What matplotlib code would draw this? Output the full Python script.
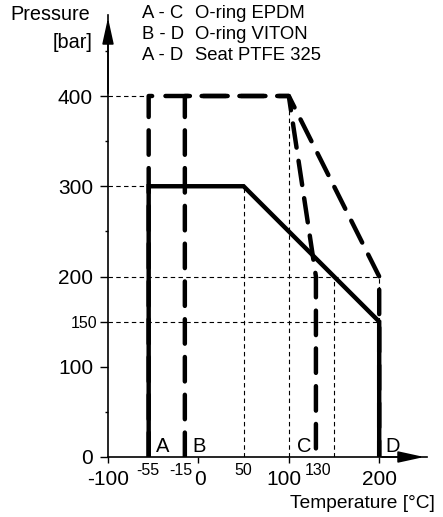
import matplotlib
matplotlib.use("Agg")
import matplotlib.pyplot as plt

plt.rcParams["font.family"] = ["Liberation Sans", "DejaVu Sans"]

# curves: temperature [°C], pressure [bar]
seat_t = [-55, -55, 50, 200, 200]
seat_p = [0, 300, 300, 150, 0]
epdm_t = [-55, -55, 100, 130, 130]
epdm_p = [0, 400, 400, 200, 0]
viton_t = [-15, -15, 100, 200, 200]
viton_p = [0, 400, 400, 200, 0]

# helper (thin dashed) lines
hlines_p = [400, 300, 200, 150]
hlines_end = [-55, -55, 200, 200]
vlines_t = [50, 100, 150]
vlines_top = [300, 400, 200]

y_major = [0, 100, 150, 200, 300, 400]
y_minor = [50, 250, 350, 450]
x_major = [-100, 0, 100, 200]
x_major_pos = [-100, 2, 95, 200]
x_small = [-55, -15, 50, 130]
x_small_pos = [-56, -20, 50, 132]

letters = ["A", "B", "C", "D"]
letter_t = [-40, 1, 117, 215]

legend_keys = ["A - C", "B - D", "A - D"]
legend_names = ["O-ring EPDM", "O-ring VITON", "Seat PTFE 325"]

W, H = 443, 517
fig = plt.figure(figsize=(W / 100, H / 100), dpi=100)
ax = fig.add_axes([108 / W, (H - 457) / H, (427 - 108) / W, (457 - 15) / H])
ax.set_xlim(-100, -100 + 319 / 0.904)
ax.set_ylim(0, 442 / 0.9025)

for s in ["top", "right"]:
    ax.spines[s].set_visible(False)
ax.spines["left"].set_linewidth(1.2)
ax.spines["bottom"].set_linewidth(1.2)

thin = dict(color="black", lw=0.8, dashes=(4, 3))
for p, e in zip(hlines_p, hlines_end):
    ax.plot([-100, e], [p, p], **thin)
for t, top in zip(vlines_t, vlines_top):
    ax.plot([t, t], [0, top], **thin)
ax.plot([200, 200], [150, 200], **thin)

thick_dash = dict(color="black", lw=3.2, dashes=(5.5, 3.0),
                  dash_capstyle="round", solid_joinstyle="miter")
ax.plot(epdm_t, epdm_p, **thick_dash)
ax.plot(viton_t, viton_p, **thick_dash)
ax.plot(seat_t, seat_p, color="black", lw=3.2, solid_joinstyle="miter", zorder=5)

# axis arrows
xmax = ax.get_xlim()[1]
ymax = ax.get_ylim()[1]
arr = dict(arrowstyle="-|>,head_length=1.6,head_width=0.35", color="black",
           lw=1.2, mutation_scale=10)
ax.annotate("", xy=(xmax, 0), xytext=(200, 0), arrowprops=arr, annotation_clip=False)
ax.annotate("", xy=(-100, ymax), xytext=(-100, 400), arrowprops=arr, annotation_clip=False)

ax.set_yticks(y_major)
ax.set_yticklabels([str(v) for v in y_major], fontsize=15)
ax.set_yticks(y_minor, minor=True)
ax.tick_params(axis="y", which="major", length=5.8, width=1, pad=5)
ax.tick_params(axis="y", which="minor", length=2.5, width=1)
t150 = ax.yaxis.get_major_ticks()[y_major.index(150)]
t150.tick1line.set_markersize(3.6)
t150.label1.set_fontsize(11.5)
t150.set_pad(2)

ax.set_xticks(x_major)
ax.set_xticklabels([])
ax.tick_params(axis="x", which="major", length=4, width=1)

for t, x in zip(x_major, x_major_pos):
    ax.text(x, -24.5, str(t), fontsize=15, ha="center", va="center", clip_on=False)
for t, x in zip(x_small, x_small_pos):
    ax.text(x, -15.5, str(t), fontsize=11.5, ha="center", va="center", clip_on=False)

for l, t in zip(letters, letter_t):
    ax.text(t, 12, l, fontsize=14.5, ha="center", va="center")

fig.text(90 / W, 1 - 15 / H, "Pressure", fontsize=14.3, ha="right", va="center")
fig.text(93 / W, 1 - 42 / H, "[bar]", fontsize=14.3, ha="right", va="center")
fig.text(435 / W, 1 - 504 / H, "Temperature [°C]", fontsize=13.8, ha="right", va="center")

for i, (k, n) in enumerate(zip(legend_keys, legend_names)):
    y = 1 - (14 + 20.5 * i) / H
    fig.text(142 / W, y, k, fontsize=13.3, ha="left", va="center")
    fig.text(195 / W, y, n, fontsize=13.3, ha="left", va="center")

fig.savefig("out.png", dpi=100)
